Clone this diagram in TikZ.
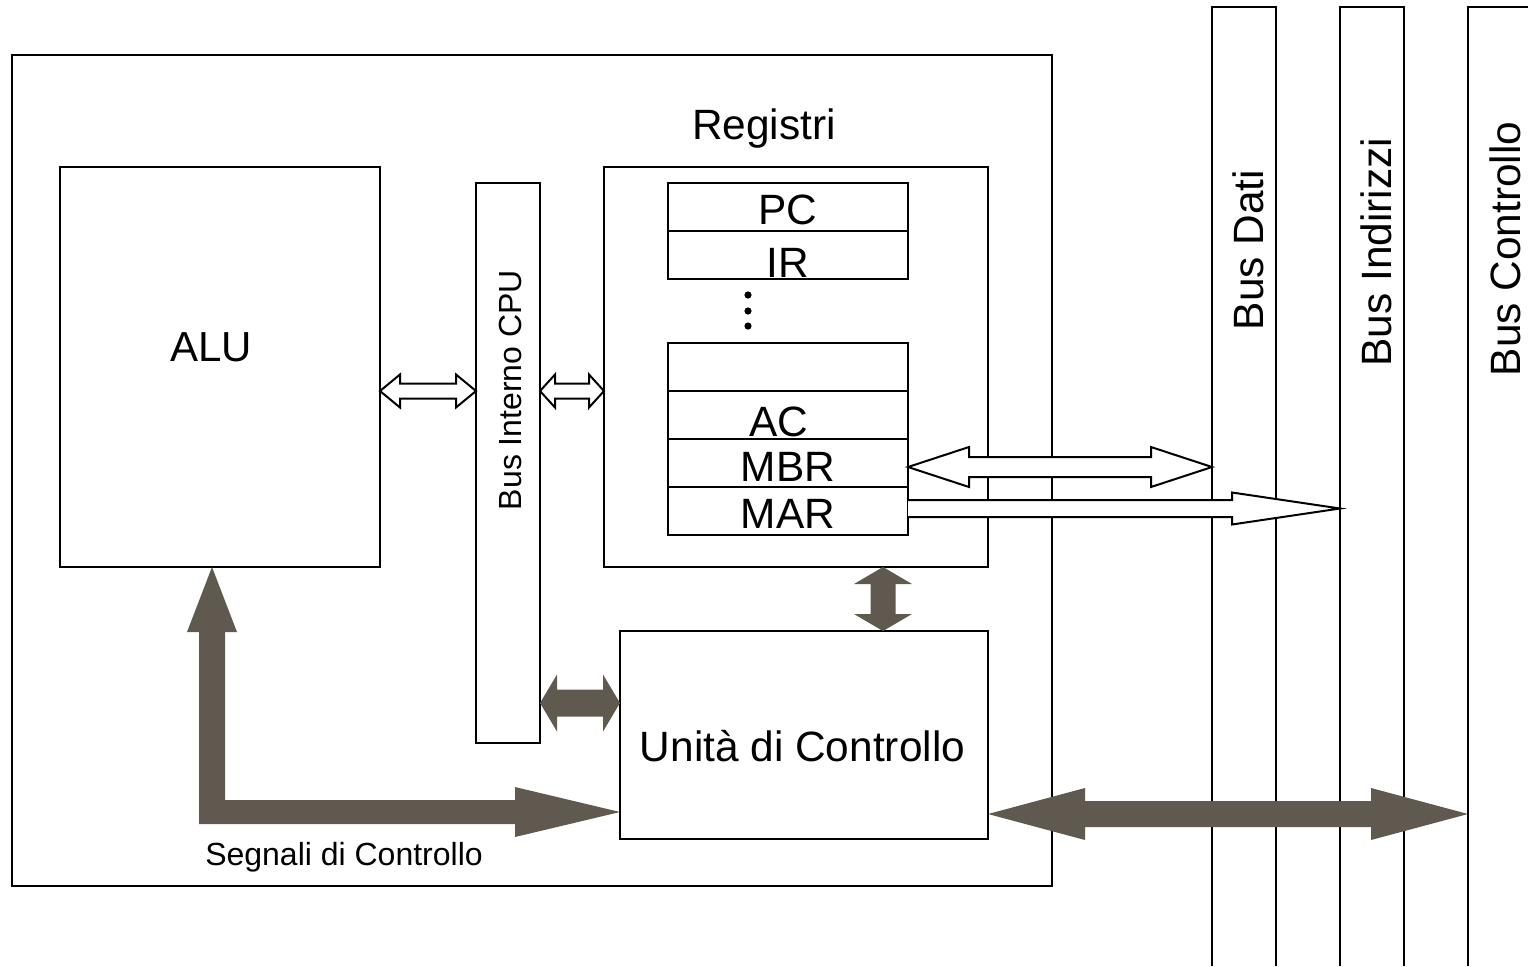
\documentclass[tikz,border=0pt]{standalone}
\usepackage{fontspec}
\setmainfont{Liberation Sans}
\usetikzlibrary{calc,fit}
\definecolor{arrowfill}{RGB}{95,89,79}
% horizontal double block arrow: style, left tip, right tip, shaft half, head half, head length
\newcommand\HDbl[6]{\path[#1] (#2) -- ($(#2)+(#6,-#5)$) -- ($(#2)+(#6,-#4)$) -- ($(#3)+(-#6,-#4)$) -- ($(#3)+(-#6,-#5)$) -- (#3) -- ($(#3)+(-#6,#5)$) -- ($(#3)+(-#6,#4)$) -- ($(#2)+(#6,#4)$) -- ($(#2)+(#6,#5)$) -- cycle;}
% vertical double block arrow: style, top tip, bottom tip, shaft half, head half, head length
\newcommand\VDbl[6]{\path[#1] (#2) -- ($(#2)+(#5,#6)$) -- ($(#2)+(#4,#6)$) -- ($(#3)+(#4,-#6)$) -- ($(#3)+(#5,-#6)$) -- (#3) -- ($(#3)+(-#5,-#6)$) -- ($(#3)+(-#4,-#6)$) -- ($(#2)+(-#4,#6)$) -- ($(#2)+(-#5,#6)$) -- cycle;}
% single right block arrow with open tail: style, tail centre, tip, shaft half, head half, head length
\newcommand\HSgl[6]{\path[#1] ($(#2)+(0,-#4)$) -- ($(#3)+(-#6,-#4)$) -- ($(#3)+(-#6,-#5)$) -- (#3) -- ($(#3)+(-#6,#5)$) -- ($(#3)+(-#6,#4)$) -- ($(#2)+(0,#4)$);}
\tikzset{
  box/.style={draw, line width=1.35pt, inner sep=0pt, outer sep=0pt},
  busline/.style={draw, line width=1.45pt},
  hollow/.style={draw, fill=white, line width=1pt, line join=miter},
  solidarrow/.style={fill=arrowfill},
  bigtext/.style={font=\fontsize{21.2pt}{25pt}\selectfont, inner sep=0pt, anchor=base},
  smalltext/.style={font=\fontsize{16pt}{19pt}\selectfont, inner sep=0pt, anchor=base},
}
\begin{document}
\begin{tikzpicture}[x=0.5pt,y=-0.5pt]
\useasboundingbox (0,0) rectangle (1528,966);
% boxes
\node[box, fit={(12,55) (1052,886)}] (cpu) {};
\node[box, fit={(60,167) (380,567)}] (alu) {};
\node[box, fit={(476,183) (540,743)}] (bus) {};
\node[box, fit={(604,167) (988,567)}] (reg) {};
\node[box, fit={(668,183) (908,231)}] (pc) {};
\node[box, fit={(668,231) (908,279)}] (ir) {};
\node[box, fit={(668,343) (908,391)}] (r1) {};
\node[box, fit={(668,391) (908,439)}] (ac) {};
\node[box, fit={(668,439) (908,487)}] (mbr) {};
\node[box, fit={(668,487) (908,535)}] (mar) {};
\node[box, fit={(620,631) (988,839)}] (uc) {};
% texts
\node[bigtext, font=\fontsize{21pt}{25pt}\selectfont] (alut) at (211,361) {ALU};
\node[bigtext] (regt) at (764,139) {Registri};
\node[bigtext] (pct) at (788,224) {PC};
\node[bigtext] (irt) at (788,277) {IR};
\node[bigtext] (act) at (778.5,436) {AC};
\node[bigtext] (mbrt) at (788,481) {MBR};
\node[bigtext] (mart) at (788,528) {MAR};
\node[bigtext] (uct) at (802.5,761) {Unità di Controllo};
\node[smalltext] (segt) at (344,865) {Segnali di Controllo};
\node[smalltext, rotate=90] (bust) at (521,390) {Bus Interno CPU};
\node[bigtext, rotate=90] (bdt) at (1263,250) {Bus Dati};
\node[bigtext, rotate=90] (bit) at (1391,252) {Bus Indirizzi};
\node[bigtext, rotate=90] (bct) at (1520,249) {Bus Controllo};
% dots
\fill (748,295) circle (3.6);
\fill (748,311) circle (3.6);
\fill (748,326) circle (3.6);
% system buses
\path[busline] (1212,966) -- (1212,7) -- (1276,7) -- (1276,966);
\path[busline] (1340,966) -- (1340,7) -- (1404,7) -- (1404,966);
\path[busline] (1468,966) -- (1468,7) -- (1545,7);
% arrow centre lines
\coordinate (yA) at (0,391);
\coordinate (yM) at (0,467);
\coordinate (yR) at (0,508.5);
\coordinate (yB) at (0,703);
\coordinate (yC) at (0,812);
\coordinate (yU) at (0,814);
\coordinate (xV) at (883,0);
\coordinate (xL) at (212,0);
\coordinate (dati) at (1212,467);
\coordinate (indir) at (1340,508.5);
\coordinate (contr) at (1468,814);
% hollow arrows
\HDbl{hollow}{alu.east |- yA}{bus.west |- yA}{7.5}{16.5}{20}
\HDbl{hollow}{bus.east |- yA}{reg.west |- yA}{7.5}{16.5}{15}
\HDbl{hollow}{mbr.east |- yM}{dati}{10}{20}{61}
\HSgl{hollow}{mar.east |- yR}{indir}{8.5}{16}{108}
% solid arrows
\VDbl{solidarrow}{reg.south -| xV}{uc.north -| xV}{12.5}{29}{17}
\HDbl{solidarrow}{bus.east |- yB}{uc.west |- yB}{13.5}{28.5}{17}
\HDbl{solidarrow}{uc.east |- yU}{contr}{13}{26}{97}
\coordinate (ltip) at (alu.south -| xL);
\coordinate (rtip) at (uc.west |- yC);
\path[solidarrow] (ltip) -- ($(ltip)+(25,65)$) -- ($(ltip)+(13,65)$)
  -- ($(xL |- yC)+(13,-12)$) -- ($(rtip)+(-105,-12)$) -- ($(rtip)+(-105,-25)$)
  -- (rtip) -- ($(rtip)+(-105,25)$) -- ($(rtip)+(-105,12)$)
  -- ($(xL |- yC)+(-13,12)$) -- ($(ltip)+(-13,65)$) -- ($(ltip)+(-25,65)$) -- cycle;
\end{tikzpicture}
\end{document}
